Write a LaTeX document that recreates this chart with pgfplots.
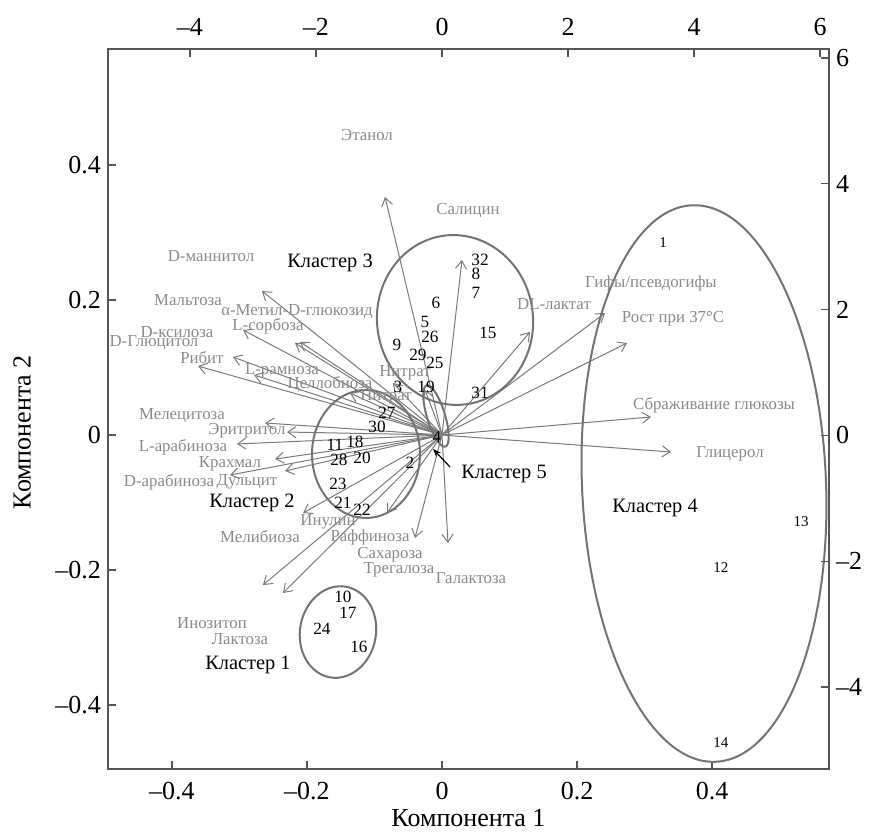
\documentclass[border=0pt]{standalone}
\usepackage{fontspec}
\setmainfont{Liberation Serif}
\usepackage{pgfplots}
\pgfplotsset{compat=1.18}
\usepackage{pgfplotstable}
\usetikzlibrary{arrows.meta}
\definecolor{axgray}{HTML}{555555}
\definecolor{arrgray}{HTML}{7A7A7A}
\definecolor{labgray}{HTML}{8A8A8A}
\definecolor{ellgray}{HTML}{737373}

\pgfplotstableread[col sep=comma,row sep=\\]{
x,y,u,v\\
0,0,-0.0844,0.3526\\
0,0,0.0296,0.2593\\
0,0,-0.2667,0.2133\\
0,0,-0.2948,0.1556\\
0,0,-0.2178,0.1363\\
0,0,-0.2104,0.1378\\
0,0,-0.3096,0.1156\\
0,0,-0.3615,0.1022\\
0,0,-0.2785,0.0889\\
0,0,-0.1363,0.0622\\
0,0,-0.0726,0.0770\\
0,0,-0.0252,0.0667\\
0,0,-0.2622,0.0178\\
0,0,-0.2296,0.0044\\
0,0,-0.3037,-0.0133\\
0,0,-0.2474,-0.0356\\
0,0,-0.2326,-0.0533\\
0,0,-0.3141,-0.0593\\
0,0,-0.2059,-0.1156\\
0,0,-0.0815,-0.1156\\
0,0,-0.0400,-0.1526\\
0,0,0.0089,-0.1600\\
0,0,-0.2652,-0.2222\\
0,0,-0.2356,-0.2341\\
0,0,0.1304,0.1526\\
0,0,0.2415,0.1807\\
0,0,0.2741,0.1363\\
0,0,0.3096,0.0267\\
0,0,0.3393,-0.0252\\
}\arrows

\pgfplotstableread[col sep=comma,row sep=\\]{
x,y,lab\\
-0.1111,0.4444,Этанол\\
0.0385,0.3319,Салицин\\
-0.3422,0.2652,D-маннитол\\
-0.3763,0.2000,Мальтоза\\
-0.2148,0.1822,α-Метил-D-глюкозид\\
-0.2578,0.1615,L-сорбоза\\
-0.3926,0.1526,D-ксилоза\\
-0.4267,0.1363,D-Глюцитол\\
-0.3556,0.1141,Рибит\\
-0.2370,0.0948,L-рамноза\\
-0.1659,0.0756,Целлобиоза\\
-0.0548,0.0919,Нитрат\\
-0.0830,0.0563,Нитрат\\
-0.3852,0.0281,Мелецитоза\\
-0.2889,0.0059,Эритритол\\
-0.3837,-0.0178,L-арабиноза\\
-0.3141,-0.0430,Крахмал\\
-0.4044,-0.0696,D-арабиноза\\
-0.2889,-0.0696,Дульцит\\
-0.1689,-0.1289,Инулин\\
-0.2696,-0.1511,Мелибиоза\\
-0.1067,-0.1511,Раффиноза\\
-0.0770,-0.1778,Сахароза\\
-0.0637,-0.2000,Трегалоза\\
0.0430,-0.2119,Галактоза\\
-0.3407,-0.2785,Инозитоп\\
-0.2993,-0.3022,Лактоза\\
0.1659,0.1941,DL-лактат\\
0.3096,0.2252,Гифы/псевдогифы\\
0.3422,0.1719,Рост при 37°C\\
0.4030,0.0444,Сбраживание глюкозы\\
0.4267,-0.0281,Глицерол\\
}\varlabels

\pgfplotstableread[col sep=comma,row sep=\\]{
x,y,lab\\
0.0563,0.2593,32\\
0.0504,0.2385,8\\
0.0504,0.2104,7\\
-0.0089,0.1956,6\\
-0.0252,0.1674,5\\
-0.0178,0.1452,26\\
-0.0667,0.1333,9\\
-0.0356,0.1185,29\\
-0.0104,0.1067,25\\
0.0681,0.1511,15\\
-0.0652,0.0711,3\\
-0.0237,0.0711,19\\
0.0563,0.0622,31\\
-0.0815,0.0326,27\\
-0.0963,0.0119,30\\
-0.1289,-0.0104,18\\
-0.1585,-0.0148,11\\
-0.1526,-0.0370,28\\
-0.1185,-0.0341,20\\
-0.0474,-0.0415,2\\
-0.0074,-0.0030,4\\
-0.1541,-0.0726,23\\
-0.1467,-0.1007,21\\
-0.1185,-0.1111,22\\
-0.1467,-0.2400,10\\
-0.1393,-0.2637,17\\
-0.1778,-0.2874,24\\
-0.1230,-0.3141,16\\
}\points

\pgfplotstableread[col sep=comma,row sep=\\]{
x,y,lab\\
0.3274,0.2844,1\\
0.5319,-0.1289,13\\
0.4133,-0.1956,12\\
0.4133,-0.4563,14\\
}\pointsfour

\pgfplotstableread[col sep=comma,row sep=\\]{
x,y,lab\\
-0.1659,0.2548,Кластер 3\\
-0.2815,-0.1007,Кластер 2\\
-0.2874,-0.3407,Кластер 1\\
0.3156,-0.1081,Кластер 4\\
0.0919,-0.0578,Кластер 5\\
}\clusters

\begin{document}
\begin{tikzpicture}
\pgfplotsset{
  common/.style={
    at={(0,0)}, anchor=south west,
    scale only axis, width=360.5pt, height=360pt,
    tick align=inside, major tick length=4pt,
    axis line style={draw=axgray, line width=0.7pt},
    every tick/.style={draw=axgray, line width=0.7pt},
    ticklabel style={font=\fontsize{13}{15}\selectfont, text=black},
    clip=false,
  },
  txt/.style={only marks, mark=*, mark size=0pt, mark options={draw=none,fill=none},
    nodes near coords, point meta=explicit symbolic},
}
\begin{axis}[common,
  xmin=-0.4948, xmax=0.5733, ymin=-0.4948, ymax=0.5719,
  xtick={-0.4,-0.2,0,0.2,0.4}, xticklabels={–0.4,–0.2,0,0.2,0.4},
  ytick={-0.4,-0.2,0,0.2,0.4}, yticklabels={–0.4,–0.2,0,0.2,0.4},
  xtick pos=lower, ytick pos=left,
  xticklabel shift=3pt,
  xlabel={Компонента 1}, ylabel={Компонента 2},
  label style={font=\fontsize{13}{15}\selectfont},
  xlabel style={at={(axis description cs:0.5,-0.068)}, anchor=center},
  ylabel style={at={(axis description cs:-0.119,0.468)}, anchor=center},
]
% loading arrows
\addplot[arrgray, line width=0.5pt, mark=none,
  quiver={u=\thisrow{u}, v=\thisrow{v},
    every arrow/.append style={-{Straight Barb[length=4pt,width=5.5pt]}}}]
  table[x=x, y=y] {\arrows};
% cluster ellipses
\draw[ellgray, line width=1pt, rotate around={-10:(axis cs:-0.1541,-0.2919)}]
  (axis cs:-0.1541,-0.2919) ellipse [x radius=19pt, y radius=23pt];
\draw[ellgray, line width=1pt]
  (axis cs:-0.1126,-0.0281) ellipse [x radius=27pt, y radius=32pt];
\draw[ellgray, line width=1pt, rotate around={7:(axis cs:0.0193,0.1704)}]
  (axis cs:0.0193,0.1704) ellipse [x radius=39pt, y radius=42.5pt];
\draw[ellgray, line width=1pt, rotate around={2.4:(axis cs:0.3881,-0.0719)}]
  (axis cs:0.3881,-0.0719) ellipse [x radius=61pt, y radius=139.25pt];
\draw[ellgray, line width=1pt, rotate around={107:(axis cs:-0.0089,0.0281)}]
  (axis cs:-0.0089,0.0281) ellipse [x radius=16pt, y radius=4.5pt];
\draw[black, line width=0.6pt, -{Stealth[length=4pt,width=3pt]}]
  (axis cs:0.0119,-0.0474) -- (axis cs:-0.0133,-0.0207);
% variable labels
\addplot[txt, nodes near coords style={anchor=center, text=labgray,
  font=\fontsize{8.4}{10}\selectfont, inner sep=0pt}] table[x=x, y=y, meta=lab] {\varlabels};
% objects
\addplot[txt, nodes near coords style={anchor=center, text=black,
  font=\fontsize{8.6}{10}\selectfont, inner sep=0pt}] table[x=x, y=y, meta=lab] {\points};
\addplot[txt, nodes near coords style={anchor=center, text=black,
  font=\fontsize{7.5}{9}\selectfont, inner sep=0pt}] table[x=x, y=y, meta=lab] {\pointsfour};
\addplot[txt, nodes near coords style={anchor=center, text=black,
  font=\fontsize{10.2}{12}\selectfont, inner sep=0pt}] table[x=x, y=y, meta=lab] {\clusters};
\end{axis}
\begin{axis}[common,
  xmin=-5.30, xmax=6.14, ymin=-5.30, ymax=6.14,
  xtick={-4,-2,0,2,4,6}, xticklabels={–4,–2,0,2,4,6},
  ytick={-4,-2,0,2,4,6}, yticklabels={–4,–2,0,2,4,6},
  xtick pos=upper, ytick pos=right,
  xticklabel pos=upper, yticklabel pos=right,
  xticklabel shift=3pt,
]
\end{axis}
\pgfresetboundingbox
\path (-54pt,-32pt) rectangle (381pt,384.5pt);
\end{tikzpicture}
\end{document}
